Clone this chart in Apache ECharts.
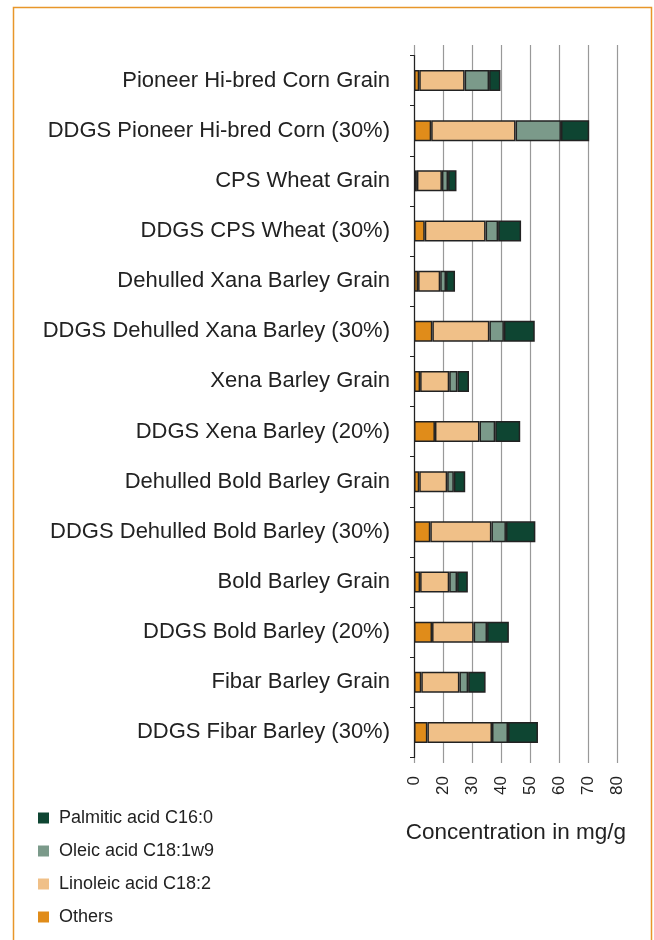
<!DOCTYPE html>
<html>
<head>
<meta charset="utf-8">
<script src="https://cdn.jsdelivr.net/npm/echarts@6/dist/echarts.min.js"></script>
<style>
  html, body { margin: 0; padding: 0; background: #fff; }
  #main { width: 654px; height: 940px; }
</style>
</head>
<body>
<div id="main"></div>
<script>
// 品种（从上到下）
var categories = [
    'Pioneer Hi-bred Corn Grain',
    'DDGS Pioneer Hi-bred Corn (30%)',
    'CPS Wheat Grain',
    'DDGS CPS Wheat (30%)',
    'Dehulled Xana Barley Grain',
    'DDGS Dehulled Xana Barley (30%)',
    'Xena Barley Grain',
    'DDGS Xena Barley (20%)',
    'Dehulled Bold Barley Grain',
    'DDGS Dehulled Bold Barley (30%)',
    'Bold Barley Grain',
    'DDGS Bold Barley (20%)',
    'Fibar Barley Grain',
    'DDGS Fibar Barley (30%)'
];
// 各脂肪酸数值（按网格单位读取）
var others    = [1.8, 5.9, 1.0, 3.7, 1.4, 6.3, 2.1, 7.2, 1.8, 5.6, 2.1, 6.2, 2.5, 4.6];
var linoleic  = [15.6, 29.0, 8.6, 20.9, 7.6, 19.6, 10.0, 15.3, 9.6, 21.0, 10.0, 14.3, 13.1, 22.2];
var oleic     = [8.4, 15.6, 2.1, 4.3, 2.0, 5.0, 2.8, 5.4, 2.3, 5.0, 2.7, 4.6, 3.0, 5.5];
var palmitic  = [3.9, 9.7, 2.9, 7.9, 3.1, 10.6, 4.0, 8.6, 3.9, 10.1, 3.7, 7.5, 6.0, 10.3];
// 横轴刻度标签（原图少了10）
var tickLabels = ['0', '20', '30', '40', '50', '60', '70', '80'];

var FONT = '"Liberation Sans", Arial, Helvetica, sans-serif';

var myChart = echarts.init(document.getElementById('main'));

function seg(name, data, color) {
    return {
        name: name,
        type: 'bar',
        stack: 'total',
        xAxisIndex: 0,
        yAxisIndex: 0,
        barWidth: 21,
        data: data,
        itemStyle: {
            color: color,
            borderColor: '#222',
            borderWidth: 1.5
        },
        emphasis: { disabled: true }
    };
}

var option = {
    backgroundColor: '#fff',
    animation: false,
    graphic: [{
        type: 'rect',
        shape: { x: 13.5, y: 7.5, width: 638, height: 980 },
        style: { fill: 'none', stroke: '#e8962a', lineWidth: 1.5 },
        silent: true
    }],
    legend: {
        orient: 'vertical',
        left: 38,
        top: 809,
        height: 128,
        padding: 0,
        itemWidth: 11,
        itemHeight: 11,
        itemGap: 15,
        icon: 'rect',
        itemStyle: { borderWidth: 0 },
        data: ['Palmitic acid C16:0', 'Oleic acid C18:1w9', 'Linoleic acid C18:2', 'Others'],
        textStyle: {
            fontFamily: FONT,
            fontSize: 18,
            color: '#222',
            padding: [0, 0, 0, 5]
        },
        selectedMode: false
    },
    grid: [
        { left: 414, right: 36.3, top: 55.5, bottom: 182.5 },
        { left: 414, right: 36.3, top: 45, bottom: 177 }
    ],
    xAxis: [
        {
            type: 'value',
            gridIndex: 0,
            min: 0,
            max: 70,
            interval: 10,
            show: false
        },
        {
            type: 'value',
            gridIndex: 1,
            min: 0,
            max: 70,
            interval: 10,
            axisLine: { show: false },
            axisTick: { show: false },
            splitLine: { show: true, lineStyle: { color: '#999', width: 1.2 } },
            axisLabel: {
                rotate: 90,
                margin: 13,
                fontFamily: FONT,
                fontSize: 17,
                color: '#222',
                formatter: function (v) { return tickLabels[Math.round(v / 10)]; }
            },
            name: 'Concentration in mg/g',
            nameLocation: 'middle',
            nameGap: 58,
            nameTextStyle: { fontFamily: FONT, fontSize: 22.5, color: '#222' }
        }
    ],
    yAxis: [
        {
            type: 'category',
            gridIndex: 0,
            inverse: true,
            data: categories,
            axisLine: { show: true, lineStyle: { color: '#222', width: 1.2 } },
            axisTick: { show: true, length: 4, lineStyle: { color: '#222' } },
            axisLabel: {
                margin: 24,
                fontFamily: FONT,
                fontSize: 22,
                color: '#222'
            },
            z: 5
        },
        {
            type: 'value',
            gridIndex: 1,
            show: false
        }
    ],
    series: [
        seg('Others', others, '#e08c1a'),
        seg('Linoleic acid C18:2', linoleic, '#f0c088'),
        seg('Oleic acid C18:1w9', oleic, '#7b9a8a'),
        seg('Palmitic acid C16:0', palmitic, '#0e4532')
    ]
};

myChart.setOption(option);
</script>
</body>
</html>
